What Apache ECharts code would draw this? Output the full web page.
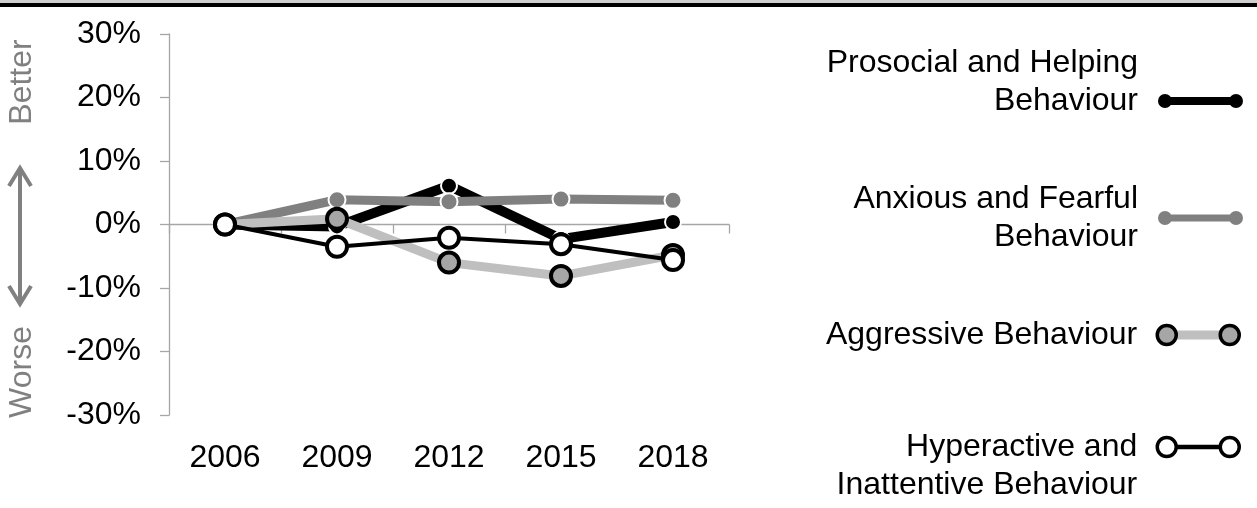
<!DOCTYPE html>
<html>
<head>
  <meta charset="utf-8">
  <title>Behaviour change</title>
  <style>
    html, body { margin: 0; padding: 0; background: #fff; }
    #main { width: 1257px; height: 508px; }
  </style>
</head>
<body>
<div id="main"></div>
<script src="https://cdn.jsdelivr.net/npm/echarts@6/dist/echarts.min.js"></script>
<script>
var years = ['2006', '2009', '2012', '2015', '2018'];
var prosocial = [0, -0.3, 6.1, -2.3, 0.4];
var anxious = [0, 3.9, 3.6, 4.0, 3.8];
var aggressive = [0, 0.9, -6.0, -8.1, -4.8];
var hyperactive = [0, -3.5, -2.1, -3.1, -5.6];
var names = [
  'Prosocial and Helping\nBehaviour',
  'Anxious and Fearful\nBehaviour',
  'Aggressive Behaviour',
  'Hyperactive and\nInattentive Behaviour'
];

var font = "'Liberation Sans', Arial, sans-serif";
var axisGray = '#a6a6a6';

// legend icons: two dots joined by a bar (bar wound the same way as the arcs so no holes)
var dotsBar = 'path://M0,7A7,7,0,1,0,14,7A7,7,0,1,0,0,7Z' +
  'M71,7A7,7,0,1,0,85,7A7,7,0,1,0,71,7Z' +
  'M10,3L10,11L75,11L75,3Z';
var dotsBarThin = 'path://M0,7A7,7,0,1,0,14,7A7,7,0,1,0,0,7Z' +
  'M71,7A7,7,0,1,0,85,7A7,7,0,1,0,71,7Z' +
  'M10,3.5L10,10.5L75,10.5L75,3.5Z';
var rings = 'path://M0,9.5A9.5,9.5,0,1,0,19,9.5A9.5,9.5,0,1,0,0,9.5Z' +
  'M63,9.5A9.5,9.5,0,1,0,82,9.5A9.5,9.5,0,1,0,63,9.5Z';
var ringsLine = rings + 'M19,9L19,10L63,10L63,9Z';

// each legend entry sits on its own; a blank line moves the text against the icon
function legendBox(name, top, right, icon, w, h, itemStyle, fmt, z) {
  var lg = {
    orient: 'vertical',
    align: 'right',
    right: right,
    top: top,
    padding: 0,
    itemWidth: w,
    itemHeight: h,
    selectedMode: false,
    z: z || 4,
    textStyle: {
      fontFamily: font,
      fontSize: 32,
      color: '#000',
      lineHeight: 38,
      align: 'right',
      padding: [0, 15, 0, 0]
    },
    data: [{ name: name, icon: icon, itemStyle: itemStyle }]
  };
  if (fmt) lg.formatter = fmt;
  return lg;
}

var chart = echarts.init(document.getElementById('main'));
chart.setOption({
  animation: false,
  grid: { left: 169, right: 528, top: 34, bottom: 93, containLabel: false },
  legend: [
    legendBox(names[0], 44, 14, dotsBar, 85, 14, { color: '#000', borderWidth: 0 },
      function (n) { return n + '\n '; }),
    legendBox(names[1], 180, 14, dotsBarThin, 85, 14, { color: '#808080', borderWidth: 0 }),
    legendBox(names[2], 316, 33, 'rect', 48, 9, { color: '#bfbfbf', borderWidth: 0 },
      function () { return ' '; }, 3),
    legendBox(names[2], 316, 16, rings, 82, 19, { color: '#a6a6a6', borderColor: '#000', borderWidth: 3.5 }),
    legendBox(names[3], 390, 16, ringsLine, 82, 19, { color: '#fff', borderColor: '#000', borderWidth: 3.5 },
      function (n) { return ' \n' + n; })
  ],
  xAxis: [
    {
      type: 'category',
      data: years,
      boundaryGap: true,
      axisLine: { onZero: true, lineStyle: { color: axisGray, width: 1.3 } },
      axisTick: { show: true, length: 9, lineStyle: { color: axisGray, width: 1.3 } },
      axisLabel: { show: false },
      splitLine: { show: false }
    },
    {
      type: 'category',
      data: years,
      position: 'bottom',
      boundaryGap: true,
      axisLine: { show: false, onZero: false },
      axisTick: { show: false },
      axisLabel: { margin: 27, fontFamily: font, fontSize: 32, color: '#000' },
      splitLine: { show: false }
    }
  ],
  yAxis: {
    type: 'value',
    min: -30,
    max: 30,
    interval: 10,
    axisLine: { show: true, lineStyle: { color: axisGray, width: 1.3 } },
    axisTick: { show: true, length: 9, lineStyle: { color: axisGray, width: 1.3 } },
    axisLabel: { formatter: '{value}%', margin: 28, fontFamily: font, fontSize: 32, color: '#000' },
    splitLine: { show: false }
  },
  series: [
    {
      name: names[0],
      type: 'line',
      data: prosocial,
      symbol: 'circle',
      symbolSize: 16,
      lineStyle: { color: '#000', width: 10 },
      itemStyle: { color: '#000', borderColor: '#fff', borderWidth: 2 }
    },
    {
      name: names[1],
      type: 'line',
      data: anxious,
      symbol: 'circle',
      symbolSize: 17,
      lineStyle: { color: '#808080', width: 9 },
      itemStyle: { color: '#808080', borderColor: '#fff', borderWidth: 2 }
    },
    {
      name: names[2],
      type: 'line',
      data: aggressive,
      symbol: 'circle',
      symbolSize: 20,
      lineStyle: { color: '#bfbfbf', width: 9 },
      itemStyle: { color: '#a6a6a6', borderColor: '#000', borderWidth: 4 }
    },
    {
      name: names[3],
      type: 'line',
      data: hyperactive,
      symbol: 'circle',
      symbolSize: 20,
      lineStyle: { color: '#000', width: 4 },
      itemStyle: { color: '#fff', borderColor: '#000', borderWidth: 4 }
    }
  ],
  graphic: [
    { type: 'rect', shape: { x: 0, y: 0, width: 1257, height: 3 }, style: { fill: '#cfcfcf' } },
    { type: 'rect', shape: { x: 0, y: 3, width: 1257, height: 4 }, style: { fill: '#000' } },
    {
      type: 'text', x: 22, y: 82, rotation: Math.PI / 2,
      style: { text: 'Better', fill: '#808080', font: '32px ' + font, align: 'center', verticalAlign: 'middle' }
    },
    {
      type: 'text', x: 22, y: 372, rotation: Math.PI / 2,
      style: { text: 'Worse', fill: '#808080', font: '32px ' + font, align: 'center', verticalAlign: 'middle' }
    },
    {
      type: 'polyline', shape: { points: [[20, 168], [20, 304]] },
      style: { stroke: '#808080', lineWidth: 4 }
    },
    {
      type: 'polyline', shape: { points: [[9, 186], [20, 168], [31, 186]] },
      style: { stroke: '#808080', lineWidth: 4, fill: null }
    },
    {
      type: 'polyline', shape: { points: [[9, 286], [20, 304], [31, 286]] },
      style: { stroke: '#808080', lineWidth: 4, fill: null }
    }
  ]
});
</script>
</body>
</html>
